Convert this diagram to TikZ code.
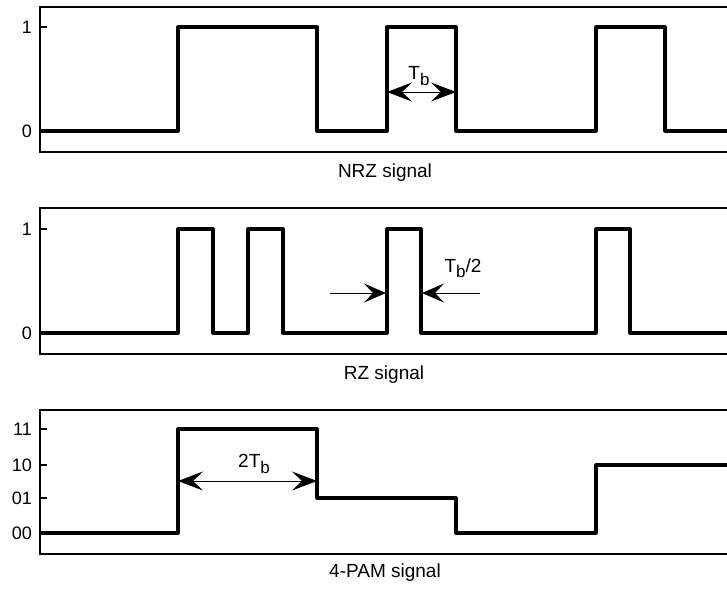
\documentclass[tikz,border=0pt]{standalone}
\usepackage{fontspec}
\setmainfont{Liberation Sans}
\usepackage{tikz}
\usetikzlibrary{arrows.meta}

\newcommand{\lowsub}[1]{\raisebox{-0.55ex}{\fontsize{17}{17}\selectfont #1}}

\begin{document}
\begin{tikzpicture}[
    x=1pt, y=-1pt,
    frame/.style={line width=1.4pt, line cap=butt},
    signal/.style={line width=3.2pt, line join=round},
    axtick/.style={line width=1.2pt},
    lvl/.style={anchor=east, inner sep=0pt, font=\fontsize{18}{20}\selectfont},
    caption/.style={inner sep=0pt, font=\fontsize{19}{21}\selectfont},
    dim/.style={{Stealth[length=25pt, width=19pt, inset=10pt]}-{Stealth[length=25pt, width=19pt, inset=10pt]}, line width=1pt},
    halfdim/.style={-{Stealth[length=22pt, width=19pt, inset=9pt]}, line width=1pt}
]
    \useasboundingbox (0,0) rectangle (727,590);

    % NRZ Row
    \draw[frame] (727,7) -- (40,7) -- (40,152) -- (727,152);
    \foreach \yy in {27,131} \draw[axtick] (40,\yy) -- (47,\yy);
    \node[lvl] (nrzone) at (32,27) {1};
    \node[lvl] (nrzzero) at (32,131) {0};
    \draw[signal] (40,131) -- (178,131) -- (178,27) -- (317,27) -- (317,131)
        -- (387,131) -- (387,27) -- (456,27) -- (456,131) -- (596,131)
        -- (596,27) -- (665,27) -- (665,131) -- (727,131);
    \coordinate (tbL) at (387,92);
    \coordinate (tbR) at (456,92);
    \draw[dim] (tbL) -- (tbR);
    \node[caption] (tb) at (419,76) {T\lowsub{b}};
    \node[caption] (nrzcap) at (385,173) {NRZ signal};

    % RZ Row
    \draw[frame] (727,208) -- (40,208) -- (40,354) -- (727,354);
    \foreach \yy in {229,333} \draw[axtick] (40,\yy) -- (47,\yy);
    \node[lvl] (rzone) at (32,229) {1};
    \node[lvl] (rzzero) at (32,333) {0};
    \draw[signal] (40,333) -- (178,333) -- (178,229) -- (213,229) -- (213,333)
        -- (248,333) -- (248,229) -- (283,229) -- (283,333) -- (387,333)
        -- (387,229) -- (421,229) -- (421,333) -- (596,333) -- (596,229)
        -- (630,229) -- (630,333) -- (727,333);
    \coordinate (hbFarL) at (330,293);
    \coordinate (hbL) at (386,293);
    \coordinate (hbFarR) at (480,293);
    \coordinate (hbR) at (422,293);
    \draw[halfdim] (hbFarL) -- (hbL);
    \draw[halfdim] (hbFarR) -- (hbR);
    \node[caption] (tbhalf) at (463,268) {T\lowsub{b}/2};
    \node[caption] (rzcap) at (384,375) {RZ signal};

    % 4-PAM Row
    \draw[frame] (727,410) -- (40,410) -- (40,554) -- (727,554);
    \foreach \yy/\code in {429/11, 465/10, 498/01, 533/00} {
        \draw[axtick] (40,\yy) -- (47,\yy);
        \node[lvl] (pam\code) at (32,\yy) {\code};
    }
    \draw[signal] (40,533) -- (178,533) -- (178,429) -- (317,429) -- (317,498)
        -- (456,498) -- (456,533) -- (596,533) -- (596,465) -- (727,465);
    \coordinate (twoL) at (178,481);
    \coordinate (twoR) at (317,481);
    \draw[dim] (twoL) -- (twoR);
    \node[caption] (twotb) at (254,464) {2T\lowsub{b}};
    \node[caption] (pamcap) at (385,573) {4-PAM signal};

\end{tikzpicture}
\end{document}
